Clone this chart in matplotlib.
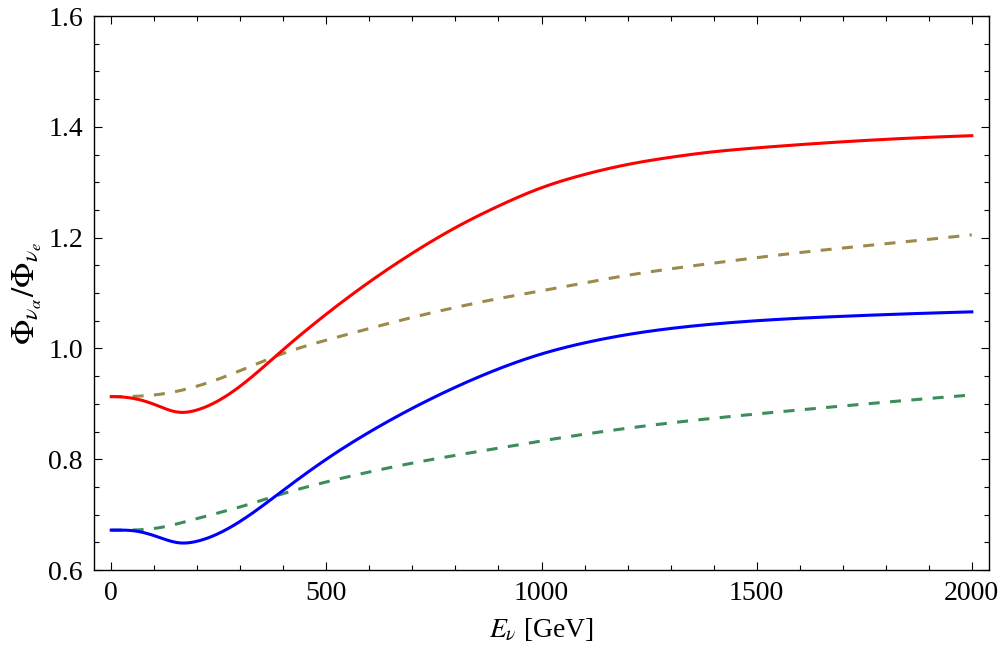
import numpy as np
import matplotlib
matplotlib.use('Agg')
import matplotlib.pyplot as plt
from matplotlib.ticker import MultipleLocator, FormatStrFormatter

plt.rcParams['font.family'] = ['Liberation Serif', 'DejaVu Serif']
plt.rcParams['mathtext.fontset'] = 'stix'

# values (E in GeV)
e_red = [0, 50, 100, 155, 200, 300, 400, 500, 600, 700, 800, 900, 1000,
         1100, 1200, 1300, 1400, 1500, 1700, 2000]
red = [0.913, 0.910, 0.899, 0.885, 0.889, 0.932, 0.998, 1.062, 1.120, 1.172, 1.218,
       1.257, 1.290, 1.314, 1.332, 1.345, 1.355, 1.362, 1.373, 1.384]

e_blue = [0, 50, 100, 159, 200, 300, 400, 500, 600, 700, 800, 900, 1000,
          1100, 1200, 1300, 1400, 1500, 1700, 2000]
blue = [0.672, 0.671, 0.662, 0.649, 0.652, 0.688, 0.744, 0.800, 0.849, 0.892, 0.930,
        0.963, 0.990, 1.010, 1.025, 1.036, 1.044, 1.050, 1.058, 1.066]

e_dash = [0, 100, 200, 300, 400, 500, 600, 700, 800, 900, 1000, 1200, 1400, 1600, 1800, 2000]
gold = [0.913, 0.916, 0.932, 0.960, 0.991, 1.015, 1.036, 1.056, 1.074, 1.090, 1.104,
        1.132, 1.154, 1.173, 1.189, 1.205]
green = [0.672, 0.675, 0.693, 0.714, 0.738, 0.759, 0.777, 0.793, 0.807, 0.820, 0.833,
         0.856, 0.874, 0.889, 0.903, 0.916]


def smooth(x, y, n=600):
    # clamped cubic spline through the read points (zero slope at E=0)
    x = np.asarray(x, float)
    y = np.asarray(y, float)
    N = len(x)
    h = np.diff(x)
    A = np.zeros((N, N))
    b = np.zeros(N)
    A[0, 0], A[0, 1] = 2 * h[0], h[0]
    b[0] = 6 * ((y[1] - y[0]) / h[0] - 0.0)
    for i in range(1, N - 1):
        A[i, i - 1] = h[i - 1]
        A[i, i] = 2 * (h[i - 1] + h[i])
        A[i, i + 1] = h[i]
        b[i] = 6 * ((y[i + 1] - y[i]) / h[i] - (y[i] - y[i - 1]) / h[i - 1])
    A[-1, -2], A[-1, -1] = 1.0, -1.0  # not-too-curved end: M[n-1] = M[n-2]
    M = np.linalg.solve(A, b)
    xs = np.linspace(x[0], x[-1], n)
    i = np.clip(np.searchsorted(x, xs) - 1, 0, N - 2)
    t1 = x[i + 1] - xs
    t0 = xs - x[i]
    ys = (M[i] * t1**3 + M[i + 1] * t0**3) / (6 * h[i]) \
        + (y[i] / h[i] - M[i] * h[i] / 6) * t1 + (y[i + 1] / h[i] - M[i + 1] * h[i] / 6) * t0
    return xs, ys


fig = plt.figure(figsize=(10, 6.57), dpi=100)
ax = fig.add_axes([0.094, 0.1324, 0.895, 0.8432])

lw = 2.2
ax.plot(*smooth(e_dash, gold), color='#9c8a4a', lw=lw, dashes=(3.6, 3.4))
ax.plot(*smooth(e_dash, green), color='#3d8c5c', lw=lw, dashes=(3.6, 3.4))
ax.plot(*smooth(e_red, red), color='#ff0000', lw=lw)
ax.plot(*smooth(e_blue, blue), color='#0000ff', lw=lw)

ax.set_xlim(-40, 2040)
ax.set_ylim(0.6, 1.6)
ax.xaxis.set_major_locator(MultipleLocator(500))
ax.xaxis.set_minor_locator(MultipleLocator(100))
ax.yaxis.set_major_locator(MultipleLocator(0.2))
ax.yaxis.set_minor_locator(MultipleLocator(0.05))
ax.yaxis.set_major_formatter(FormatStrFormatter('%.1f'))
ax.tick_params(which='both', direction='in', top=True, right=True, labelsize=20, width=0.8)
ax.tick_params(which='major', length=6, pad=8)
ax.tick_params(which='minor', length=3.5)
for s in ax.spines.values():
    s.set_linewidth(1.0)

ax.set_xlabel(r'$E_\nu$ [GeV]', fontsize=20, labelpad=7)
ax.set_ylabel(r'$\Phi_{\nu_\alpha}/\Phi_{\nu_e}$', fontsize=24, labelpad=3)

fig.savefig('out.png', dpi=100)
